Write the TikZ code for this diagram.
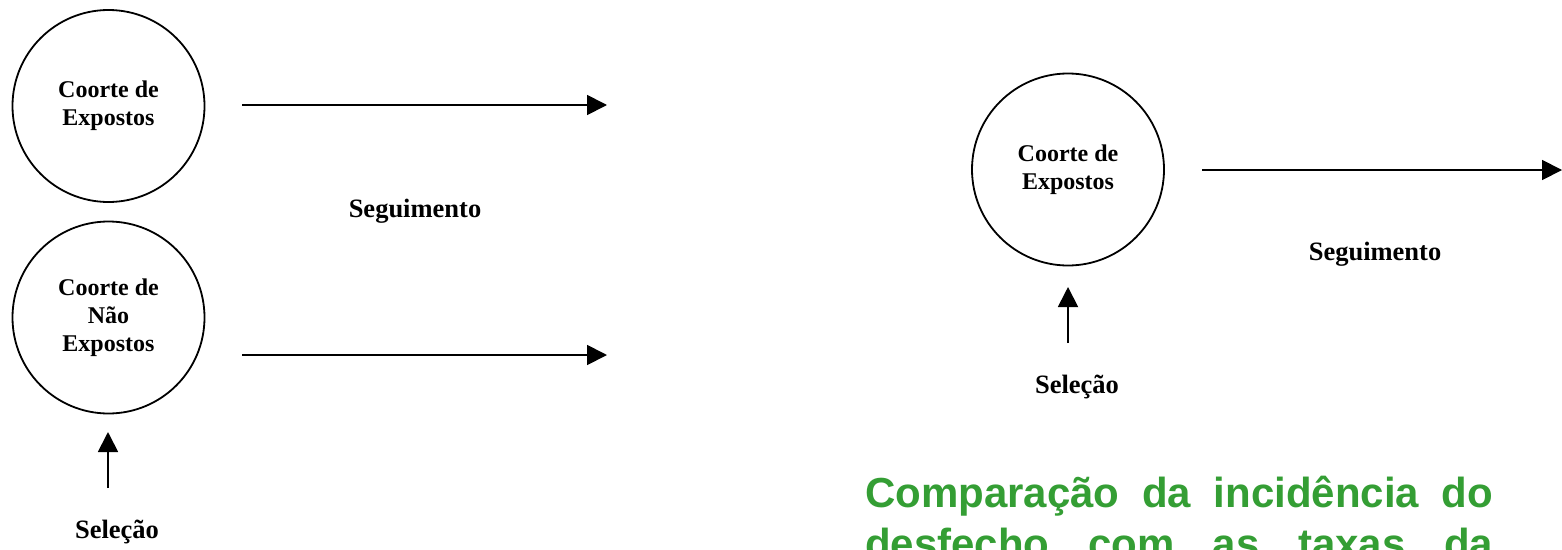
\documentclass[tikz,border=0pt]{standalone}
\usepackage{fontspec}
\setmainfont{Liberation Serif}
\newfontfamily\greenfont{Liberation Sans}
\usetikzlibrary{arrows.meta}
\definecolor{titlegreen}{RGB}{52,158,52}
\begin{document}
\begin{tikzpicture}[x=1pt,y=-1pt,
  cohort/.style={circle,draw,line width=1.8pt,minimum size=192pt,inner sep=0pt,
    align=center,font=\bfseries\fontsize{24}{28}\selectfont},
  lbl/.style={font=\bfseries\fontsize{26.5}{30}\selectfont,inner sep=0pt},
  flow/.style={line width=1.8pt,-{Triangle[length=20pt,width=20pt]}},
  gtext/.style={font=\greenfont\bfseries\fontsize{42}{51}\selectfont,text=titlegreen,inner sep=0pt,anchor=base west}]
\useasboundingbox (0,0) rectangle (1562,549);
\clip (0,0) rectangle (1562,549);
% left part
\node[cohort] (ce1) at (108.5,106) {Coorte de\\Expostos};
\node[cohort] (cne) at (108.5,317.5) {Coorte de\\Não\\Expostos};
\coordinate (a1s) at (242,105);
\coordinate (a1e) at (607,105);
\coordinate (a2s) at (242,355);
\coordinate (a2e) at (607,355);
\draw[flow] (a1s) -- (a1e);
\draw[flow] (a2s) -- (a2e);
\node[lbl] (seg1) at (415,211) {Seguimento};
\coordinate (u1s) at (108,488);
\coordinate (u1e) at (108,432);
\draw[flow] (u1s) -- (u1e);
\node[lbl] (sel1) at (117,532) {Seleção};
% right part
\node[cohort] (ce2) at (1068,169.5) {Coorte de\\Expostos};
\coordinate (a3s) at (1202,170);
\coordinate (a3e) at (1562,170);
\draw[flow] (a3s) -- (a3e);
\node[lbl] (seg2) at (1375,254) {Seguimento};
\coordinate (u2s) at (1068,343);
\coordinate (u2e) at (1068,287);
\draw[flow] (u2s) -- (u2e);
\node[lbl] (sel2) at (1077,387) {Seleção};
% green text
\node[gtext] (g1) at (865,507) {\makebox[628pt][s]{Comparação da incidência do}};
\node[gtext] (g2) at (865,558) {\makebox[628pt][s]{desfecho com as taxas da}};
\end{tikzpicture}
\end{document}
